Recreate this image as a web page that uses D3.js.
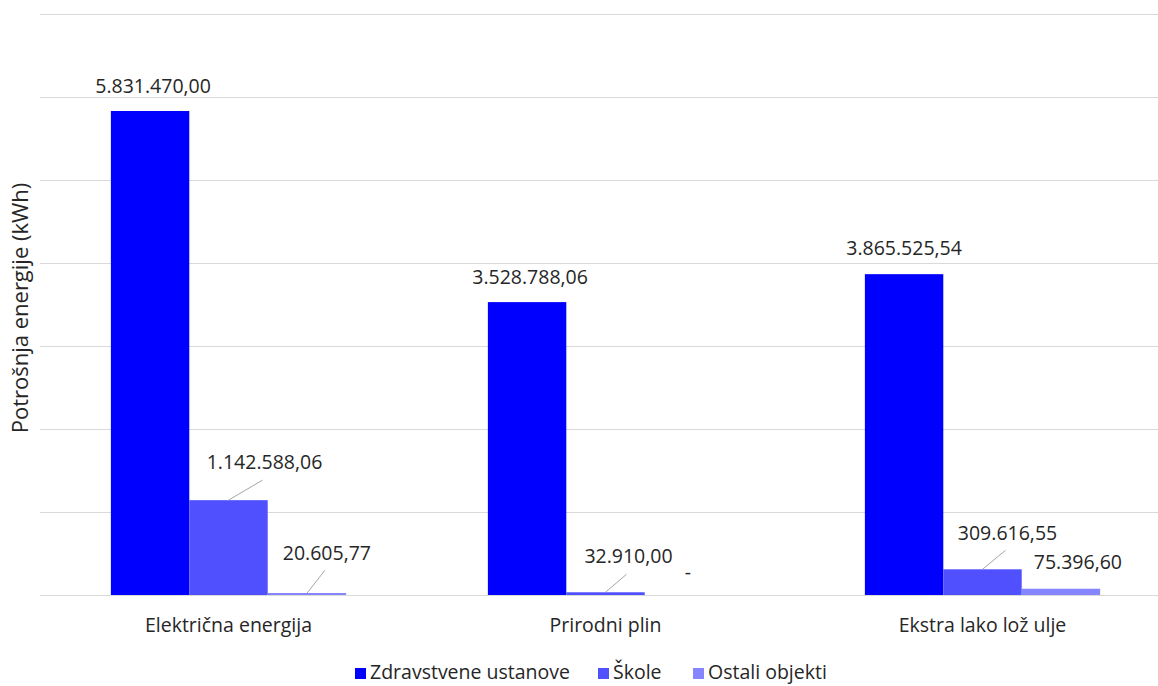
<!DOCTYPE html>
<html><head><meta charset="utf-8">
<script src="https://cdn.jsdelivr.net/npm/d3@7"></script>
<style>body{margin:0;background:#fff}svg{display:block}text{font-family:"Open Sans",sans-serif;fill:#262626}</style>
</head><body><svg id="c" width="1158" height="686"></svg>
<script>
const categories = ["Električna energija", "Prirodni plin", "Ekstra lako lož ulje"];
const seriesNames = ["Zdravstvene ustanove", "Škole", "Ostali objekti"];
const zdravstvene = [5831470.00, 3528788.06, 3865525.54];
const skole = [1142588.06, 32910.00, 309616.55];
const ostali = [20605.77, 0, 75396.60];
const yTicks = [0, 1e6, 2e6, 3e6, 4e6, 5e6, 6e6, 7e6];
const colors = ["#0000FF", "#5050FF", "#8585FF"];
const seriesValues = [zdravstvene, skole, ostali];

(function () {
const svg = d3.select("#c");
const pLeft = 40, pRight = 1158, pTop = 14, pBottom = 595;
const x0 = d3.scaleBand().domain(categories).range([pLeft, 1171]).paddingInner(0.376).paddingOuter(0.188);
const x1 = d3.scaleBand().domain(seriesNames).range([0, x0.bandwidth()]);
const y = d3.scaleLinear().domain([0, 7e6]).range([pBottom, pTop]);

svg.append("g").selectAll("line").data(yTicks).join("line")
  .attr("x1", pLeft).attr("x2", pRight)
  .attr("y1", d => Math.round(y(d)) + 0.5).attr("y2", d => Math.round(y(d)) + 0.5)
  .attr("stroke", "#d9d9d9").attr("stroke-width", 1.2);

const fmt = v => {
  if (v === 0) return "-";
  const parts = v.toFixed(2).split(".");
  return parts[0].replace(/\B(?=(\d{3})+(?!\d))/g, ".") + "," + parts[1];
};

const data = [];
seriesNames.forEach((s, si) => categories.forEach((c, ci) => data.push({s, si, c, ci, v: seriesValues[si][ci]})));
svg.append("g").selectAll("rect").data(data.filter(d => d.v > 0)).join("rect")
  .attr("x", d => x0(d.c) + x1(d.s)).attr("width", x1.bandwidth())
  .attr("y", d => Math.min(y(d.v), pBottom - 2)).attr("height", d => Math.max(pBottom - y(d.v), 2))
  .attr("fill", d => colors[d.si]);

// label placement relative to bar top center: [dx, dy, leader]
const labelOffsets = {
  "0-0": [3, -23, false], "0-1": [3, -23, false], "0-2": [0, -24, false],
  "1-0": [36, -36, true], "1-1": [23, -34, true], "1-2": [25, -35, true],
  "2-0": [20, -39, true], "2-1": [4, -20, false], "2-2": [17, -25, false]
};
const lg = svg.append("g");
data.forEach(d => {
  const o = labelOffsets[d.si + "-" + d.ci];
  const cx = x0(d.c) + x1(d.s) + x1.bandwidth() / 2;
  const ty = Math.min(y(d.v), pBottom - 1);
  const lx = cx + o[0], ly = ty + o[1];
  if (o[2]) {
    lg.append("line").attr("x1", cx).attr("y1", ty).attr("x2", lx - 2).attr("y2", ly + 16)
      .attr("stroke", "#a6a6a6").attr("stroke-width", 1);
  }
  lg.append("text").attr("x", lx).attr("y", ly).attr("text-anchor", "middle")
    .attr("dominant-baseline", "middle").style("font-size", "19.5px").text(fmt(d.v));
});

svg.append("g").selectAll("text").data(categories).join("text")
  .attr("x", d => x0(d) + x0.bandwidth() / 2).attr("y", 627).attr("text-anchor", "middle")
  .attr("dominant-baseline", "middle").style("font-size", "19.5px").text(d => d);

svg.append("text").attr("transform", "translate(22,308) rotate(-90)").attr("text-anchor", "middle")
  .attr("dominant-baseline", "middle").style("font-size", "22px").text("Potrošnja energije (kWh)");

const legX = [355, 598, 693];
const leg = svg.append("g");
seriesNames.forEach((s, i) => {
  leg.append("rect").attr("x", legX[i]).attr("y", 668).attr("width", 11).attr("height", 11).attr("fill", colors[i]);
  leg.append("text").attr("x", legX[i] + 15).attr("y", 674).attr("dominant-baseline", "middle")
    .style("font-size", "19.5px").text(s);
});
})();
</script></body></html>
